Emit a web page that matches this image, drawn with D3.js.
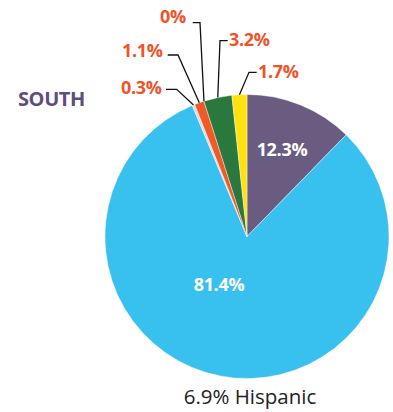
<!DOCTYPE html>
<html>
<head>
<meta charset="utf-8">
<script src="https://cdn.jsdelivr.net/npm/d3@7"></script>
<style>
  html, body { margin: 0; padding: 0; background: #fff; }
  svg { display: block; font-family: "Open Sans", sans-serif; }
</style>
</head>
<body>
<svg id="chart" width="393" height="412"></svg>
<script>
// Population shares for the South, clockwise from 12 o'clock
const groups = ["Black", "White", "Other", "Asian", "Pacific Islander", "American Indian", "Multiracial"];
const shares = [12.3, 81.4, 0.3, 1.1, 0, 3.2, 1.7];
const sliceColors = ["#6a5c80", "#38c0ef", "#d5dde2", "#f15a26", "#222222", "#2b783e", "#fee10f"];
const title = "SOUTH";
const footnote = "6.9% Hispanic";

// Label placement: inside labels are offsets from the pie centre,
// outside labels carry a text anchor and a leader-line elbow.
const insideLabels = { 0: [35, -81], 1: [-28, 54] };
const outsideLabels = {
  2: { tx: 121, ty: 94, ex: 176.7, ey: 89.3, sx: 166 },
  3: { tx: 122, ty: 57, ex: 178, ey: 55, sx: 167.7 },
  4: { tx: 160, ty: 23, ex: 200, ey: 22.7, sx: 192.7 },
  5: { tx: 229, ty: 46, ex: 220, ey: 40.7, sx: 227.7 },
  6: { tx: 258, ty: 78, ex: 249, ey: 72.3, sx: 256.7 }
};

const svg = d3.select("#chart");
const cx = 247, cy = 236.5, radius = 142;

const pie = d3.pie().sort(null).value(d => d.v);
const arcs = pie(shares.map((v, i) => ({ v, i })));
const arc = d3.arc().innerRadius(0).outerRadius(radius);

const g = svg.append("g").attr("transform", `translate(${cx},${cy})`);

g.selectAll("path.slice")
  .data(arcs.filter(a => a.data.v > 0))
  .join("path")
  .attr("class", "slice")
  .attr("d", arc)
  .attr("fill", d => sliceColors[d.data.i])
  .attr("stroke", "#fff")
  .attr("stroke-width", 0.4);

// Inside value labels
arcs.forEach(a => {
  const off = insideLabels[a.data.i];
  if (!off) return;
  g.append("text")
    .attr("x", off[0]).attr("y", off[1])
    .attr("text-anchor", "middle")
    .attr("font-size", 18).attr("font-weight", 700)
    .attr("fill", "#fff")
    .attr("letter-spacing", -0.3)
    .text(`${a.data.v}%`);
});

// Outside value labels with elbow leader lines to the rim
arcs.forEach(a => {
  const lab = outsideLabels[a.data.i];
  if (!lab) return;
  const mid = (a.startAngle + a.endAngle) / 2;
  const px = cx + radius * Math.sin(mid);
  const py = cy - radius * Math.cos(mid);
  svg.append("polyline")
    .attr("points", `${lab.sx},${lab.ey} ${lab.ex},${lab.ey} ${px},${py}`)
    .attr("fill", "none")
    .attr("stroke", "#111")
    .attr("stroke-width", 1.3);
  svg.append("text")
    .attr("x", lab.tx).attr("y", lab.ty)
    .attr("font-size", 18).attr("font-weight", 700)
    .attr("fill", "#f0532b")
    .attr("letter-spacing", -0.3)
    .text(`${a.data.v}%`);
});

svg.append("text")
  .attr("x", 18).attr("y", 106)
  .attr("font-size", 20).attr("font-weight", 700)
  .attr("fill", "#5e4e7c")
  .attr("letter-spacing", -0.4)
  .text(title);

svg.append("text")
  .attr("x", 250).attr("y", 404)
  .attr("text-anchor", "middle")
  .attr("font-size", 20.5)
  .attr("fill", "#222")
  .text(footnote);
</script>
</body>
</html>
